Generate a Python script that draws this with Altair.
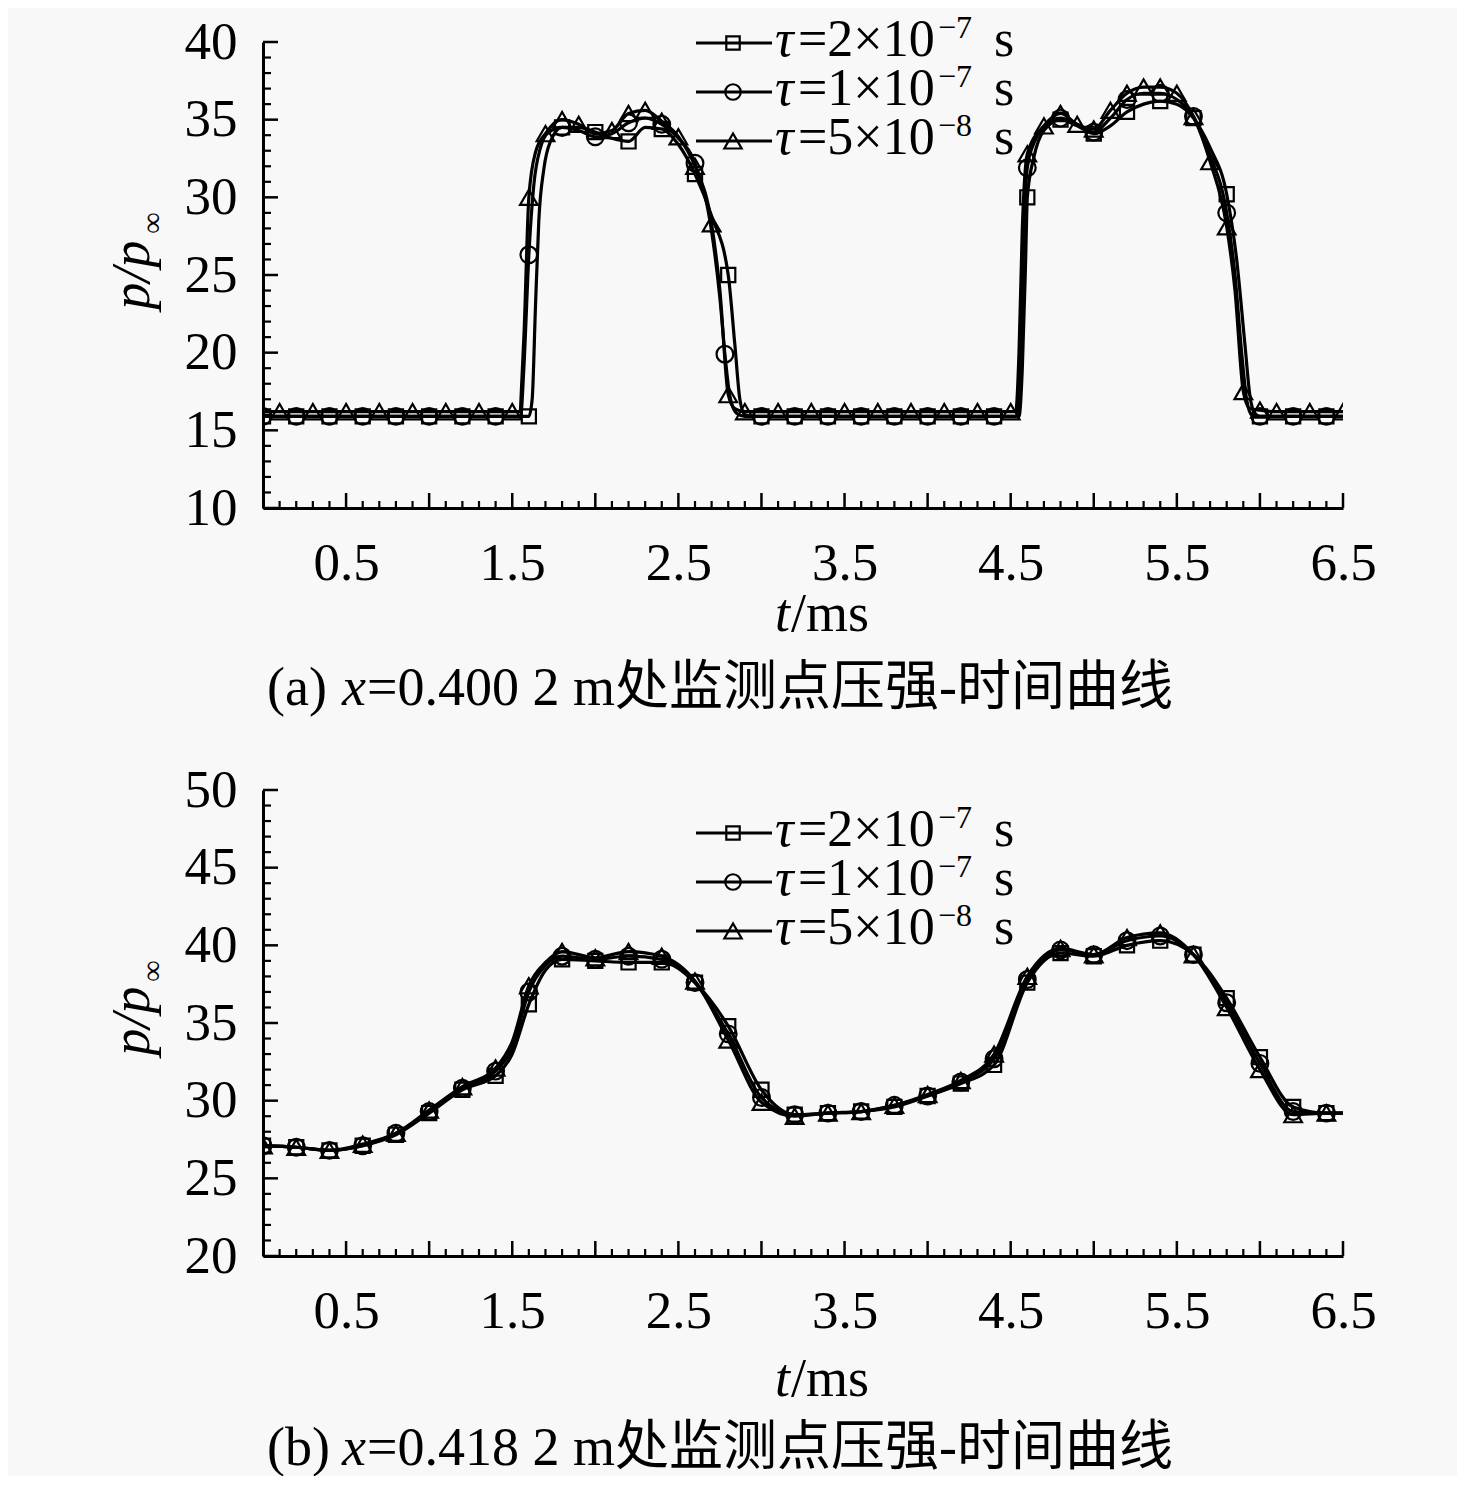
import altair as alt
import pandas as pd

FONT = "Liberation Serif, Noto Sans CJK SC"
BG = "#f8f8f8"
W, H = 1080, 466

SHAPES = ["square", "circle", "triangle-up"]
SIZES = [200, 280, 310]
LEG_SIZES = [180, 240, 300]

# ---------------- panel (a): x = 0.4002 m ----------------
# square series (tau = 2e-7 s): marker points
a_sq_mt = [0.0, 0.2, 0.4, 0.6, 0.8, 1.0, 1.2, 1.4, 1.6, 1.8, 2.0, 2.2, 2.4, 2.6, 2.8,
           3.0, 3.2, 3.4, 3.6, 3.8, 4.0, 4.2, 4.4, 4.6, 4.8, 5.0, 5.2, 5.4, 5.6, 5.8,
           6.0, 6.2, 6.4]
a_sq_mp = [15.9, 15.9, 15.9, 15.9, 15.9, 15.9, 15.9, 15.9, 15.9, 34.5, 34.2, 33.6, 34.4, 31.5, 25.0,
           15.9, 15.9, 15.9, 15.9, 15.9, 15.9, 15.9, 15.9, 30.0, 35.0, 34.1, 35.5, 36.2, 35.1, 30.2,
           15.9, 15.9, 15.9]
# square series: further curve points between markers
a_sq_xt = [1.62, 1.64, 1.66, 1.69, 1.73, 1.9, 2.1, 2.3, 2.5, 2.7, 2.84, 2.87, 2.9, 2.95,
           4.55, 4.57, 4.59, 4.64, 4.7, 4.9, 5.1, 5.3, 5.5, 5.7, 5.86, 5.91, 5.94, 5.97, 6.5]
a_sq_xp = [17.0, 23.0, 28.5, 31.8, 33.6, 34.5, 33.8, 34.5, 33.4, 28.8, 20.5, 17.0, 16.0, 15.9,
           15.9, 19.0, 26.0, 32.6, 34.3, 34.6, 34.6, 36.0, 36.0, 33.2, 26.0, 20.5, 17.2, 16.1, 15.9]

# circle series (tau = 1e-7 s)
a_ci_mt = [0.0, 0.2, 0.4, 0.6, 0.8, 1.0, 1.2, 1.4, 1.6, 1.8, 2.0, 2.2, 2.4, 2.6, 2.78,
           3.0, 3.2, 3.4, 3.6, 3.8, 4.0, 4.2, 4.4, 4.6, 4.8, 5.0, 5.2, 5.4, 5.6, 5.8,
           6.0, 6.2, 6.4]
a_ci_mp = [15.9, 15.9, 15.9, 15.9, 15.9, 15.9, 15.9, 15.9, 26.3, 34.5, 33.9, 34.8, 34.7, 32.2, 19.9,
           15.9, 15.9, 15.9, 15.9, 15.9, 15.9, 15.9, 15.9, 31.9, 35.1, 34.2, 36.3, 36.7, 35.2, 29.0,
           15.9, 15.9, 15.9]
a_ci_xt = [1.55, 1.57, 1.63, 1.67, 1.72, 1.9, 2.1, 2.3, 2.5, 2.7, 2.75, 2.81, 2.85, 2.9,
           4.54, 4.56, 4.58, 4.64, 4.7, 4.9, 5.1, 5.3, 5.5, 5.7, 5.85, 5.89, 5.92, 5.95, 6.5]
a_ci_xp = [15.9, 19.0, 30.8, 33.2, 34.2, 34.3, 34.1, 35.1, 33.8, 27.8, 23.5, 17.2, 16.1, 15.9,
           15.9, 20.0, 28.0, 33.5, 34.5, 34.7, 35.1, 36.7, 36.3, 32.7, 25.0, 20.0, 17.0, 16.0, 15.9]

# triangle series (tau = 5e-8 s)
a_tr_mt = [0.1, 0.3, 0.5, 0.7, 0.9, 1.1, 1.3, 1.5,
           1.6, 1.7, 1.8, 1.9, 2.1, 2.2, 2.3, 2.4, 2.5, 2.6, 2.7, 2.8, 2.9,
           3.1, 3.3, 3.5, 3.7, 3.9, 4.1, 4.3, 4.5,
           4.6, 4.7, 4.8, 4.9, 5.0, 5.1, 5.2, 5.3, 5.4, 5.5, 5.6, 5.7, 5.8, 5.9, 6.0,
           6.1, 6.3, 6.5]
a_tr_mp = [16.2, 16.2, 16.2, 16.2, 16.2, 16.2, 16.2, 16.2,
           30.0, 34.1, 35.0, 34.7, 34.3, 35.4, 35.6, 34.9, 33.9, 32.0, 28.3, 17.3, 16.2,
           16.2, 16.2, 16.2, 16.2, 16.2, 16.2, 16.2, 16.2,
           32.8, 34.6, 35.4, 34.7, 34.4, 35.6, 36.7, 37.1, 37.1, 36.7, 35.2, 32.3, 28.1, 17.5, 16.3,
           16.2, 16.2, 16.2]
a_tr_xt = [0.0, 1.54, 1.57, 1.64, 2.0, 2.75, 2.84, 4.53, 4.55, 4.57, 5.85, 5.94]
a_tr_xp = [16.2, 16.2, 21.0, 32.9, 34.1, 24.0, 16.4, 16.2, 20.0, 28.0, 24.0, 16.4]

# ---------------- panel (b): x = 0.4182 m ----------------
b_mt = [0.0, 0.2, 0.4, 0.6, 0.8, 1.0, 1.2, 1.4, 1.6, 1.8, 2.0, 2.2, 2.4, 2.6, 2.8,
        3.0, 3.2, 3.4, 3.6, 3.8, 4.0, 4.2, 4.4, 4.6, 4.8, 5.0, 5.2, 5.4, 5.6, 5.8,
        6.0, 6.2, 6.4]
b_sq_mp = [27.1, 27.0, 26.8, 27.1, 27.8, 29.2, 30.7, 31.6, 36.2, 39.1, 39.0, 38.9, 38.9, 37.6, 34.8,
           30.7, 29.1, 29.2, 29.3, 29.6, 30.3, 31.1, 32.3, 37.6, 39.5, 39.3, 40.0, 40.3, 39.4, 36.6,
           32.8, 29.6, 29.2]
b_ci_mp = [27.1, 27.0, 26.8, 27.1, 27.9, 29.3, 30.8, 31.9, 37.0, 39.3, 39.1, 39.3, 39.1, 37.6, 34.3,
           30.2, 29.1, 29.2, 29.3, 29.7, 30.3, 31.2, 32.7, 37.8, 39.7, 39.4, 40.3, 40.6, 39.4, 36.3,
           32.4, 29.3, 29.2]
b_tr_mp = [27.1, 27.0, 26.8, 27.2, 27.9, 29.4, 30.9, 32.1, 37.4, 39.6, 39.2, 39.6, 39.3, 37.7, 33.9,
           29.9, 29.0, 29.2, 29.3, 29.7, 30.4, 31.3, 33.0, 38.0, 39.8, 39.4, 40.5, 40.8, 39.4, 36.0,
           32.0, 29.1, 29.2]
b_xt = [1.5, 1.7, 6.5]
b_sq_xp = [33.0, 38.4, 29.2]
b_ci_xp = [33.4, 38.7, 29.2]
b_tr_xp = [33.8, 38.9, 29.2]

# ---------------- axes / legend text ----------------
x_label_vals = [0.5, 1.5, 2.5, 3.5, 4.5, 5.5, 6.5]
a_y_labels = [10, 15, 20, 25, 30, 35, 40]
b_y_labels = [20, 25, 30, 35, 40, 45, 50]
x_major = [round(0.5 * i, 1) for i in range(1, 14)]
x_minor = [round(0.1 * i, 1) for i in range(1, 65) if i % 5]
leg_mant = ["2", "1", "5"]
leg_exp = ["\u22127", "\u22127", "\u22128"]

ONE = alt.InlineData(values=[{"k": 0}])


def txt(s, x, y, size=52, style="normal", align="left", baseline="alphabetic", angle=None):
    kw = dict(text=s, font=FONT, fontSize=size, fontStyle=style, align=align,
              baseline=baseline, color="black")
    if angle is not None:
        kw["angle"] = angle
    return alt.Chart(ONE).mark_text(**kw).encode(x=alt.value(x), y=alt.value(y))


def panel(series, ydom, ylabels, leg_top, title_y, inf_y, xt_base, cap_base, caption_rest, letter):
    xs = alt.Scale(domain=[0, 6.5], nice=False, zero=False)
    ys = alt.Scale(domain=ydom, nice=False, zero=False)
    common = dict(grid=False, ticks=False, tickSize=0, title=None, labelFont=FONT,
                  labelFontSize=53, labelColor="black", domain=True, domainColor="black",
                  domainWidth=3, labelOverlap=False, labelFlush=False)
    xaxis = alt.Axis(values=x_label_vals, format=".1f", labelPadding=29, labelBound=False, **common)
    yaxis = alt.Axis(values=ylabels, format="d", labelPadding=26, **common)

    def X(field="t"):
        return alt.X(field + ":Q", scale=xs, axis=xaxis)

    def Y(field="p"):
        return alt.Y(field + ":Q", scale=ys, axis=yaxis)

    layers = []
    # series lines and markers
    for i, (mt, mp, xt, xp) in enumerate(series):
        ldf = pd.DataFrame({"t": list(mt) + list(xt), "p": list(mp) + list(xp)}).sort_values("t")
        mdf = pd.DataFrame({"t": mt, "p": mp})
        layers.append(alt.Chart(ldf).mark_line(color="black", strokeWidth=3.2, interpolate="monotone",
                                               clip=True).encode(x=X(), y=Y()))
        layers.append(alt.Chart(mdf).mark_point(shape=SHAPES[i], size=SIZES[i], filled=False,
                                                color="black", strokeWidth=2.2, opacity=1,
                                                clip=True).encode(x=X(), y=Y()))

    # axis ticks (inward)
    layers.append(alt.Chart(pd.DataFrame({"t": x_major})).mark_rule(color="black", strokeWidth=2.5).encode(
        x=X(), y=alt.value(H), y2=alt.value(H - 15)))
    layers.append(alt.Chart(pd.DataFrame({"t": x_minor})).mark_rule(color="black", strokeWidth=2.2).encode(
        x=X(), y=alt.value(H), y2=alt.value(H - 7)))
    ymaj = list(range(ydom[0], ydom[1] + 1, 5))
    ymin = [v for v in range(ydom[0], ydom[1] + 1) if v % 5]
    layers.append(alt.Chart(pd.DataFrame({"p": ymaj})).mark_rule(color="black", strokeWidth=2.5).encode(
        y=Y(), x=alt.value(0), x2=alt.value(15)))
    layers.append(alt.Chart(pd.DataFrame({"p": ymin})).mark_rule(color="black", strokeWidth=2.2).encode(
        y=Y(), x=alt.value(0), x2=alt.value(8)))

    # legend
    for i in range(3):
        ly = leg_top + 49 * i
        layers.append(alt.Chart(ONE).mark_rule(color="black", strokeWidth=3).encode(
            x=alt.value(433), x2=alt.value(509), y=alt.value(ly)))
        layers.append(alt.Chart(ONE).mark_point(shape=SHAPES[i], size=LEG_SIZES[i], filled=False,
                                                color="black", strokeWidth=2.2, opacity=1).encode(
            x=alt.value(470), y=alt.value(ly)))
        layers.append(txt("\u03c4", 512, ly + 13, style="italic"))
        layers.append(txt("=" + leg_mant[i] + "\u00d710", 535, ly + 13))
        layers.append(txt(leg_exp[i], 675, ly - 5, size=32))
        layers.append(txt("s", 731, ly + 13))

    # axis titles
    layers.append(txt("p/p", -130, title_y, size=54, style="italic", align="center",
                      baseline="middle", angle=270))
    layers.append(txt("\u221e", -110, inf_y, size=30, align="center", baseline="middle", angle=270))
    layers.append(txt("t", 527, xt_base, size=54, style="italic", align="right"))
    layers.append(txt("/ms", 528, xt_base, size=54))

    # caption
    layers.append(txt("(" + letter + ")", 4, cap_base, size=54))
    layers.append(txt("x", 79, cap_base, size=54, style="italic"))
    layers.append(txt(caption_rest, 104, cap_base, size=54))

    return alt.layer(*layers).properties(width=W, height=H)


series_a = [(a_sq_mt, a_sq_mp, a_sq_xt, a_sq_xp),
            (a_ci_mt, a_ci_mp, a_ci_xt, a_ci_xp),
            (a_tr_mt, a_tr_mp, a_tr_xt, a_tr_xp)]
series_b = [(b_mt, b_sq_mp, b_xt, b_sq_xp),
            (b_mt, b_ci_mp, b_xt, b_ci_xp),
            (b_mt, b_tr_mp, b_xt, b_tr_xp)]

pa = panel(series_a, [10, 40], a_y_labels, 1, 233, 181, H + 123, 663,
           "=0.400 2 m\u5904\u76d1\u6d4b\u70b9\u538b\u5f3a-\u65f6\u95f4\u66f2\u7ebf", "a")
pb = panel(series_b, [20, 50], b_y_labels, 43, 231, 181, H + 140, 675,
           "=0.418 2 m\u5904\u76d1\u6d4b\u70b9\u538b\u5f3a-\u65f6\u95f4\u66f2\u7ebf", "b")

chart = alt.vconcat(pa, pb, spacing=48).properties(
    background=BG,
    padding={"left": 98, "top": 4, "right": 80, "bottom": 0},
).configure_view(stroke=None)

chart.save("out.html", embed_options={"renderer": "svg", "actions": False})
